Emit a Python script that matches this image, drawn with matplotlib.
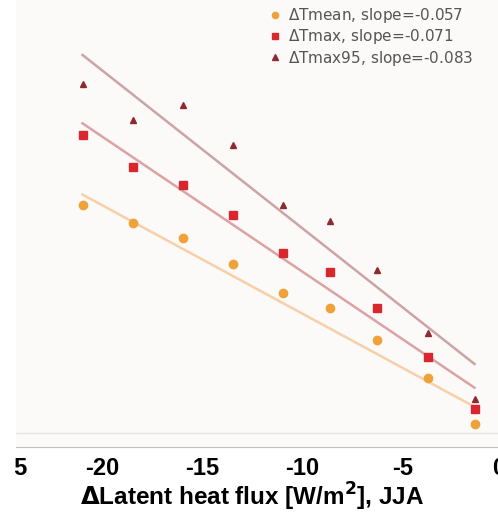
import numpy as np
from matplotlib import pyplot as plt
from matplotlib.patches import Rectangle
from matplotlib.transforms import ScaledTranslation

plt.rcParams['font.family'] = ['Liberation Sans', 'DejaVu Sans']

"DATA"
lhf = np.array([-21.0, -18.5, -16.0, -13.5, -11.0, -8.65, -6.3, -3.75, -1.4])
dT_mean = np.array([1.34, 1.25, 1.17, 1.03, 0.88, 0.80, 0.63, 0.43, 0.19])
dT_max = np.array([1.71, 1.54, 1.45, 1.29, 1.09, 0.99, 0.80, 0.54, 0.27])
dT_max95 = np.array([1.98, 1.79, 1.87, 1.66, 1.34, 1.26, 1.00, 0.67, 0.32])

labels = ['$\\Delta$Tmean, slope=-0.057', '$\\Delta$Tmax, slope=-0.071', '$\\Delta$Tmax95, slope=-0.083']
slopes = [-0.057, -0.071, -0.083]
intercepts = [0.2, 0.281, 0.389]

xticks = [-25, -20, -15, -10, -5, 0]

"STYLE"
pt_colors = ['#f0a23a', '#d8282e', '#8e2a2e']
ln_colors = ['#f7cfa8', '#dca2a6', '#cca4a6']
markers = ['o', 's', '^']
msizes = [6, 6, 5]

fig = plt.figure(figsize=(4.98, 5.2), dpi=100)
ax = fig.add_axes([-20/498, 73/520, 540/498, 447/520])
ax.set_xlim(-26.125, 0.875)
ax.set_ylim((460-447)/190, 460/190)
ax.set_facecolor('white')

# plot panel background and its lower edge
ax.axvspan(-24.33, 1, color='#fbfaf8', zorder=0, lw=0)
ax.hlines((460-433)/190, -24.33, 1, color='#e6e4e2', lw=1, zorder=1)

xfit = np.array([lhf[0], lhf[-1]])
data = [dT_mean, dT_max, dT_max95]
for i in range(3):
    ax.plot(xfit, intercepts[i] + slopes[i]*xfit, color=ln_colors[i], lw=1.8, zorder=2)
for i in range(3):
    ax.plot(lhf, data[i], linestyle='none', marker=markers[i], ms=msizes[i],
            color=pt_colors[i], mec=pt_colors[i], label=labels[i], zorder=3)

for s in ['top', 'left', 'right']:
    ax.spines[s].set_visible(False)
ax.spines['bottom'].set_color('#c4c2c0')
ax.spines['bottom'].set_bounds(-24.33, 1)
ax.set_yticks([])
ax.set_xticks(xticks)
ax.set_xticklabels([str(t) for t in xticks])
ax.tick_params(axis='x', length=0, pad=7, labelsize=17)
ticklabs = ax.get_xticklabels()
for t in ticklabs:
    t.set_fontweight('bold')
# edge labels sit a little inward in the cropped original
ticklabs[0].set_transform(ticklabs[0].get_transform() + ScaledTranslation(8/100, 0, fig.dpi_scale_trans))
ticklabs[-1].set_transform(ticklabs[-1].get_transform() + ScaledTranslation(-4/100, 0, fig.dpi_scale_trans))
ax.set_xlabel('$\\mathbf{\\Delta}$Latent heat flux [W/m$^\\mathbf{2}$], JJA', fontsize=17.5,
              fontweight='bold', labelpad=1, x=(252+20)/540)

leg = ax.legend(loc='upper left', bbox_to_anchor=(257/498, 1.012), bbox_transform=fig.transFigure,
                frameon=False, prop={'family': 'DejaVu Sans', 'size': 11}, handlelength=0.7,
                handletextpad=0.5, labelspacing=0.15, markerscale=0.75, borderpad=0.3)
for t in leg.get_texts():
    t.set_color('#555555')

# white strip along the left edge, as in the cropped original
fig.patches.append(Rectangle((0, 0), 15/498, 1, transform=fig.transFigure,
                             facecolor='white', edgecolor='none', zorder=10))

fig.savefig('out.png', dpi=100)
